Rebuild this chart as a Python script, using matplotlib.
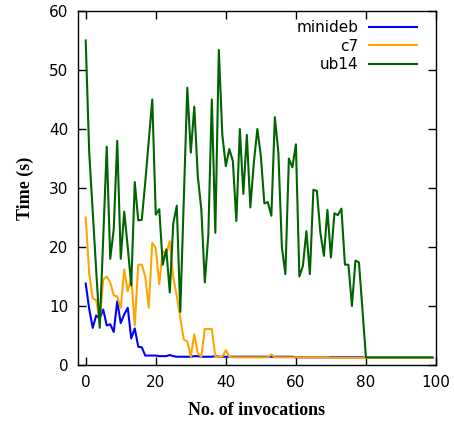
import matplotlib
matplotlib.use('Agg')
import matplotlib.pyplot as plt

invocations = list(range(100))

minideb = [13.8, 9.5, 6.3, 8.4, 7.9, 9.4, 6.7, 6.9, 5.6, 10.8,
           7.1, 8.6, 9.7, 4.5, 6.2, 3.1, 3.0, 1.6, 1.6, 1.6,
           1.6, 1.5, 1.5, 1.5, 1.7, 1.5, 1.4, 1.4, 1.4, 1.4,
           1.4, 1.5, 1.5, 1.4, 1.4, 1.4, 1.4, 1.5, 1.4, 1.4,
           1.4, 1.4, 1.4, 1.4, 1.4, 1.4, 1.4, 1.4, 1.4, 1.4,
           1.4, 1.4, 1.4, 1.4, 1.4, 1.4, 1.4, 1.4, 1.4, 1.4,
           1.3, 1.3, 1.3, 1.3, 1.3, 1.3, 1.3, 1.3, 1.3, 1.3,
           1.3, 1.3, 1.3, 1.3, 1.3, 1.3, 1.3, 1.3, 1.3, 1.3,
           1.2, 1.2, 1.2, 1.2, 1.2, 1.2, 1.2, 1.2, 1.2, 1.2,
           1.2, 1.2, 1.2, 1.2, 1.2, 1.2, 1.2, 1.2, 1.2, 1.2]

c7 = [25.0, 15.4, 11.3, 11.0, 7.5, 14.5, 15.0, 14.0, 11.8, 11.6,
      9.7, 16.2, 12.5, 14.8, 6.7, 17.0, 17.0, 15.0, 9.7, 20.7,
      19.8, 13.7, 19.3, 18.8, 21.0, 14.8, 11.7, 8.0, 4.3, 4.0,
      1.4, 5.2, 2.0, 1.4, 6.1, 6.1, 6.1, 1.4, 1.4, 1.4,
      2.5, 1.4, 1.3, 1.3, 1.3, 1.3, 1.3, 1.3, 1.3, 1.3,
      1.3, 1.3, 1.3, 1.8, 1.3, 1.3, 1.3, 1.3, 1.3, 1.3,
      1.3, 1.3, 1.3, 1.3, 1.3, 1.3, 1.3, 1.3, 1.3, 1.3,
      1.2, 1.2, 1.2, 1.2, 1.2, 1.2, 1.2, 1.2, 1.2, 1.2,
      1.2, 1.2, 1.2, 1.2, 1.2, 1.2, 1.2, 1.2, 1.2, 1.2,
      1.2, 1.2, 1.2, 1.2, 1.2, 1.2, 1.2, 1.2, 1.2, 1.2]

ub14 = [55.0, 36.0, 26.0, 16.0, 6.3, 21.5, 37.0, 18.0, 23.0, 38.0,
        18.0, 26.0, 20.0, 13.5, 31.0, 24.5, 24.6, 31.0, 38.0, 45.0,
        25.5, 26.4, 17.0, 19.6, 12.3, 24.0, 27.0, 9.0, 28.0, 47.0,
        36.0, 43.8, 32.0, 26.4, 14.0, 22.0, 45.0, 22.4, 53.4, 39.0,
        33.7, 36.6, 34.6, 24.4, 40.0, 29.0, 39.0, 26.7, 34.3, 40.0,
        35.4, 27.4, 27.6, 25.3, 42.0, 36.0, 20.0, 15.4, 35.0, 33.5,
        37.4, 15.0, 16.8, 22.7, 15.4, 29.7, 29.5, 22.4, 18.5, 26.3,
        18.2, 25.7, 25.4, 26.5, 17.0, 17.0, 10.0, 17.7, 17.4, 9.4,
        1.3, 1.3, 1.3, 1.3, 1.3, 1.3, 1.3, 1.3, 1.3, 1.3,
        1.3, 1.3, 1.3, 1.3, 1.3, 1.3, 1.3, 1.3, 1.3, 1.3]

x_ticks = [0, 20, 40, 60, 80, 100]
y_ticks = [0, 10, 20, 30, 40, 50, 60]

W, H = 454, 421
fig = plt.figure(figsize=(W / 100, H / 100), dpi=100)
ax = fig.add_axes([78 / W, 1 - 365 / H, (436 - 78) / W, (365 - 11) / H])

ax.plot(invocations, minideb, color='#0000ff', lw=1.5, label='minideb')
ax.plot(invocations, c7, color='#ffa500', lw=1.5, label='c7')
ax.plot(invocations, ub14, color='#006400', lw=1.5, label='ub14')

ax.set_xlim(-2.2, 100)
ax.set_ylim(0, 60)
ax.set_xticks(x_ticks)
ax.set_yticks(y_ticks)
ax.tick_params(direction='in', length=6, width=1, top=True, right=True,
               labelsize=11, pad=7)
for s in ax.spines.values():
    s.set_linewidth(1)

ax.set_xlabel('No. of invocations', fontfamily='Liberation Serif',
              fontweight='bold', fontsize=13, labelpad=9)
ax.set_ylabel('Time (s)', fontfamily='Liberation Serif',
              fontweight='bold', fontsize=13, labelpad=11)

ax.legend(loc='upper right', bbox_to_anchor=(0.946, 0.975), frameon=False,
          markerfirst=False, handlelength=3.1, handletextpad=0.7,
          labelspacing=0.25, fontsize=11, borderpad=0, borderaxespad=0)

fig.savefig('out.png', dpi=100)
